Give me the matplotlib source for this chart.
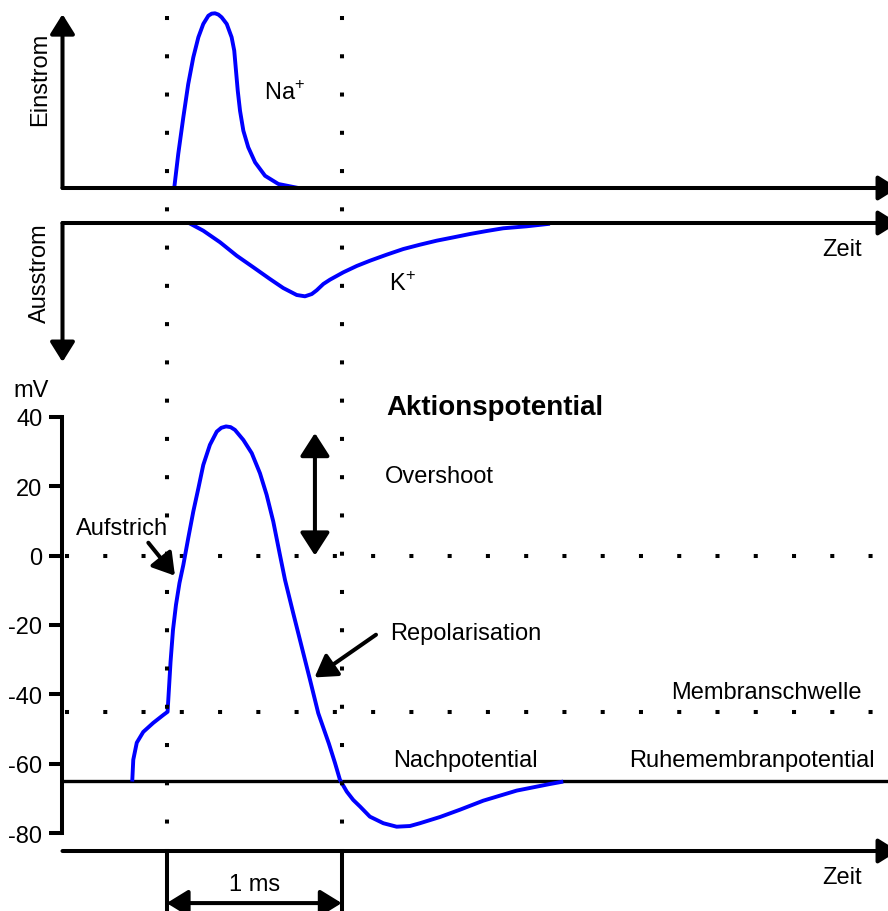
#Aktionspotential mit Na+ Einstrom und K+ Ausstrom
import matplotlib
matplotlib.use("Agg")
import matplotlib.pyplot as plt
from matplotlib.lines import Line2D
from matplotlib.transforms import blended_transform_factory

plt.rcParams['font.family'] = ['Liberation Sans', 'DejaVu Sans']
plt.rcParams['axes.unicode_minus'] = False
plt.rcParams['mathtext.fontset'] = 'custom'
plt.rcParams['mathtext.rm'] = 'Liberation Sans'

#Zeit in ms, 0 = Erreichen der Schwelle
na_time = [0.043, 0.066, 0.095, 0.123, 0.152, 0.181, 0.209, 0.238, 0.257, 0.276,
           0.295, 0.314, 0.343, 0.371, 0.386, 0.396, 0.406, 0.419, 0.438, 0.466,
           0.505, 0.562, 0.638, 0.752]
na_current = [0, 19.5, 40.5, 59.5, 74.8, 86.3, 93.9, 98.6, 99.8, 100,
              99.3, 97.7, 93.9, 86.3, 78.6, 67.1, 55.7, 44.2, 32.8, 23.3,
              14.7, 7.0, 2.3, 0]

k_time = [0.127, 0.209, 0.305, 0.400, 0.495, 0.590, 0.666, 0.743, 0.790, 0.829,
          0.857, 0.895, 0.933, 1.009, 1.086, 1.162, 1.257, 1.352, 1.447, 1.543,
          1.638, 1.733, 1.829, 1.923, 2.057, 2.190]
k_current = [0, -10.5, -26.3, -44.6, -60.4, -76.4, -88.7, -98.2, -100, -96.9,
             -91.8, -83.2, -77.3, -67.3, -58.6, -51.4, -43.2, -35.5, -29.6, -24.1,
             -19.6, -15.0, -10.9, -7.2, -4.5, -1.0]

ap_time = [-0.197, -0.191, -0.171, -0.134, -0.077, -0.019, 0.005, 0.022, 0.036, 0.053,
           0.073, 0.095, 0.123, 0.152, 0.181, 0.209, 0.247, 0.286, 0.312, 0.339,
           0.365, 0.390, 0.438, 0.486, 0.533, 0.571, 0.609, 0.647, 0.676, 0.723,
           0.771, 0.819, 0.866, 0.927, 0.962, 0.990, 1.029, 1.066, 1.105, 1.161,
           1.238, 1.314, 1.390, 1.447, 1.562, 1.676, 1.809, 2.000, 2.190, 2.266]
ap_mv = [-65.1, -58.8, -53.9, -50.8, -48.2, -45.9, -45.0, -30.6, -21.4, -14.2,
         -7.9, -2.7, 5.0, 12.7, 19.4, 26.1, 31.9, 35.7, 36.8, 37.2,
         37.0, 36.2, 33.3, 29.5, 23.7, 17.5, 9.8, 0.2, -7.0, -16.6,
         -26.2, -35.8, -45.4, -54.2, -59.8, -64.6, -68.0, -70.4, -72.3, -75.2,
         -77.1, -78.1, -77.9, -77.1, -75.3, -73.2, -70.6, -67.7, -65.8, -65.1]

mv_ticks = [40, 20, 0, -20, -40, -60, -80]
rest_mv = -65
threshold_mv = -45
zero_mv = 0
overshoot_top = 35.3

#Layout in Pixeln (888 x 912)
W, H = 888, 912
MS = 175.0          # Pixel pro ms
T0 = 166.7          # Pixel der Schwelle
def px2t(x):
    return (x - T0) / MS
t_left, t_right = px2t(0), px2t(W)
t_axis = px2t(62.5)
t_tip = px2t(898)

LW = 2.9
CURVE_LW = 2.8
BLUE = '#0000ff'
DOT_LW = 2.9
DOTS = (0, (1, 8.5))

def addAxes(fig, top, bottom):
    ax = fig.add_axes([0, 1 - bottom / H, 1, (bottom - top) / H])
    ax.set_xlim(t_left, t_right)
    ax.patch.set_visible(False)
    return ax

def arrow(ax, start, end, style='-|>', hl=12, hw=7.5):
    ax.annotate('', xy=end, xytext=start, annotation_clip=False,
                arrowprops=dict(arrowstyle=f'{style},head_length={hl},head_width={hw}',
                                mutation_scale=1, lw=LW, color='k',
                                shrinkA=0, shrinkB=0))

def curve(ax, t, y):
    ax.plot(t, y, color=BLUE, lw=CURVE_LW, solid_capstyle='butt',
            solid_joinstyle='round', clip_on=False, zorder=3)

fig = plt.figure(figsize=(W / 100, H / 100), dpi=100, facecolor='white')

#Na+ Einstrom
ax_na = addAxes(fig, 14.3, 189)
ax_na.set_ylim(0, 100)
ax_na.axis('off')
curve(ax_na, na_time, na_current)
arrow(ax_na, (t_axis, 0), (t_axis, 99.5))
arrow(ax_na, (t_axis, 0), (t_tip, 0))
ax_na.text(t_axis - 0.129, 62.9, 'Einstrom', rotation=90, fontsize=17, ha='center', va='center')
ax_na.text(0.556, 54.9, 'Na$^{+}$', fontsize=17, ha='left', va='center')

#K+ Ausstrom
ax_k = addAxes(fig, 224, 363)
ax_k.set_ylim(-189.6, 0)
ax_k.axis('off')
curve(ax_k, k_time, k_current)
arrow(ax_k, (t_axis, 0), (t_axis, -189.6))
arrow(ax_k, (t_axis, 0), (t_tip, 0))
ax_k.text(t_axis - 0.129, -66.8, 'Ausstrom', rotation=90, fontsize=17, ha='center', va='center')
ax_k.text(1.272, -81.8, 'K$^{+}$', fontsize=17, ha='left', va='center')
ax_k.text(3.745, -35.5, 'Zeit', fontsize=17, ha='left', va='center')

#Membranpotential
ax_v = addAxes(fig, 417.7, 834.3)
ax_v.set_ylim(-80, 40)
for side in ['top', 'right', 'bottom']:
    ax_v.spines[side].set_visible(False)
ax_v.spines['left'].set_position(('data', t_axis))
ax_v.spines['left'].set_bounds(-80, 40)
ax_v.spines['left'].set_linewidth(LW)
ax_v.set_xticks([])
ax_v.set_yticks(mv_ticks)
ax_v.set_yticklabels([str(v) for v in mv_ticks])
ax_v.tick_params(axis='y', length=9.4, width=LW, labelsize=17, pad=5)

dot_start = px2t(64.7)
ax_v.plot([dot_start, t_right], [zero_mv, zero_mv], color='k', lw=DOT_LW, ls=DOTS, clip_on=False)
ax_v.plot([dot_start, px2t(880)], [threshold_mv, threshold_mv], color='k', lw=DOT_LW, ls=DOTS, clip_on=False)
ax_v.plot([t_axis, t_right], [rest_mv, rest_mv], color='k', lw=2.4, clip_on=False)
curve(ax_v, ap_time, ap_mv)

#Zeitachse und 1 ms Klammer
arrow(ax_v, (t_axis, -85.1), (t_tip, -85.1))
for t in [0, 1]:
    ax_v.plot([t, t], [-85.1, -103], color='k', lw=LW, clip_on=False)
arrow(ax_v, (0, -100.1), (1, -100.1), style='<|-|>', hl=13, hw=8)
ax_v.text(0.5, -94.5, '1 ms', fontsize=17, ha='center', va='center')
ax_v.text(3.745, -92.5, 'Zeit', fontsize=17, ha='left', va='center')

#Beschriftungen
ax_v.text(px2t(13), 47.7, 'mV', fontsize=17, ha='left', va='center')
ax_v.text(1.253, 42.8, 'Aktionspotential', fontsize=20, fontweight='bold', ha='left', va='center')
ax_v.text(1.247, 23.0, 'Overshoot', fontsize=17, ha='left', va='center')
arrow(ax_v, (0.847, zero_mv), (0.847, overshoot_top), style='<|-|>', hl=14, hw=9)
ax_v.text(-0.518, 8.0, 'Aufstrich', fontsize=17, ha='left', va='center')
arrow(ax_v, (-0.105, 3.7), (0.047, -5.8), hl=13, hw=8)
ax_v.text(1.276, -22.3, 'Repolarisation', fontsize=17, ha='left', va='center')
arrow(ax_v, (1.196, -22.8), (0.845, -35.1), hl=13, hw=8)
ax_v.text(px2t(862), -39.3, 'Membranschwelle', fontsize=17, ha='right', va='center')
ax_v.text(1.293, -58.8, 'Nachpotential', fontsize=17, ha='left', va='center')
ax_v.text(px2t(875), -58.8, 'Ruhemembranpotential', fontsize=17, ha='right', va='center')

#senkrechte Hilfslinien bei 0 ms und 1 ms ueber alle Teilbilder
blend = blended_transform_factory(ax_v.transData, fig.transFigure)
for t in [0, 1]:
    fig.add_artist(Line2D([t, t], [1 - 17 / H, 1 - 826 / H], transform=blend,
                          color='k', lw=DOT_LW, ls=DOTS))

fig.savefig('out.png', dpi=100, facecolor='white')
